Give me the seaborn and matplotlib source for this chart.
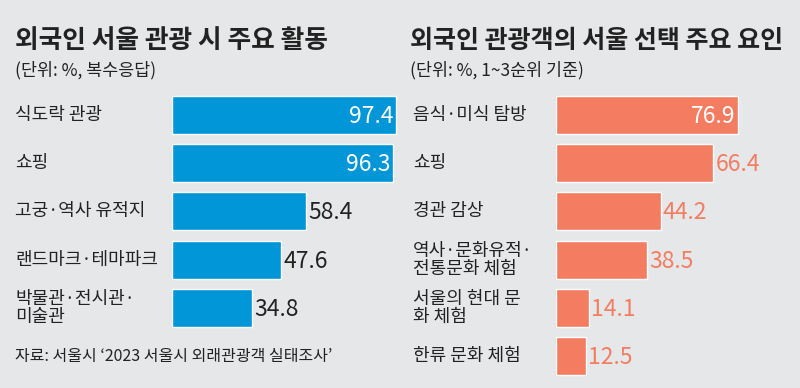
import matplotlib
matplotlib.use("Agg")
import matplotlib.pyplot as plt
import matplotlib.transforms as mtransforms
import seaborn as sns
import pandas as pd

# --- 데이터 ---
left_labels = ["식도락 관광", "쇼핑", "고궁·역사 유적지", "랜드마크·테마파크", "박물관·전시관·\n미술관"]
left_values = [97.4, 96.3, 58.4, 47.6, 34.8]

right_labels = ["음식·미식 탐방", "쇼핑", "경관 감상", "역사·문화유적·\n전통문화 체험", "서울의 현대 문\n화 체험", "한류 문화 체험"]
right_values = [76.9, 66.4, 44.2, 38.5, 14.1, 12.5]

left_title = "외국인 서울 관광 시 주요 활동"
left_sub = "(단위: %, 복수응답)"
right_title = "외국인 관광객의 서울 선택 주요 요인"
right_sub = "(단위: %, 1~3순위 기준)"
source = "자료: 서울시 ‘2023 서울시 외래관광객 실태조사’"

BG = "#e6e7e9"
BLUE = "#0096d8"
CORAL = "#f47c60"
DARK = "#222222"

sns.set_theme(style="white")
plt.rcParams['font.family'] = ['Noto Sans CJK KR', 'DejaVu Sans']

W, H = 800, 388
fig = plt.figure(figsize=(W / 100, H / 100), dpi=100, facecolor=BG)


def px_axes(x0, y_top, w, h):
    return fig.add_axes([x0 / W, 1 - (y_top + h) / H, w / W, h / H])


def draw_panel(ax, labels, values, color, label_x, inside_n, out_color):
    df = pd.DataFrame({"label": labels, "value": values})
    sns.barplot(data=df, x="value", y="label", orient="h", color=color,
                saturation=1, width=0.79, ax=ax)
    ax.set_xlim(0, 100)
    ax.set_ylim(5.5, -0.5)
    ax.set_facecolor("none")
    ax.axis("off")
    trans = mtransforms.blended_transform_factory(fig.transFigure, ax.transData)
    for i, (lab, v) in enumerate(zip(labels, values)):
        ax.text(label_x / W, i, lab, transform=trans, ha="left", va="center",
                fontsize=13, color=DARK, linespacing=1.0)
        if i < inside_n:
            ax.text(v - 1.2, i + 0.03, f"{v}", ha="right", va="center",
                    fontsize=16.5, color="white")
        else:
            ax.text(v + 0.8, i + 0.03, f"{v}", ha="left", va="center",
                    fontsize=16.5, color=out_color)


ax_l = px_axes(172, 91, 230, 289)
draw_panel(ax_l, left_labels, left_values, BLUE, 15, 2, DARK)
ax_r = px_axes(556, 91, 237, 289)
draw_panel(ax_r, right_labels, right_values, CORAL, 413, 1, CORAL)

fig.text(15 / W, 1 - 41 / H, left_title, fontsize=18.5, fontweight="bold",
         color=DARK, ha="left", va="center")
fig.text(15 / W, 1 - 70 / H, left_sub, fontsize=12.5, color=DARK,
         ha="left", va="center")
fig.text(410 / W, 1 - 41 / H, right_title, fontsize=18, fontweight="bold",
         color=DARK, ha="left", va="center")
fig.text(410 / W, 1 - 70 / H, right_sub, fontsize=12.5, color=DARK,
         ha="left", va="center")
fig.text(15 / W, 1 - 357 / H, source, fontsize=11.5, color=DARK,
         ha="left", va="center")

fig.savefig("out.png", dpi=100, facecolor=BG)
